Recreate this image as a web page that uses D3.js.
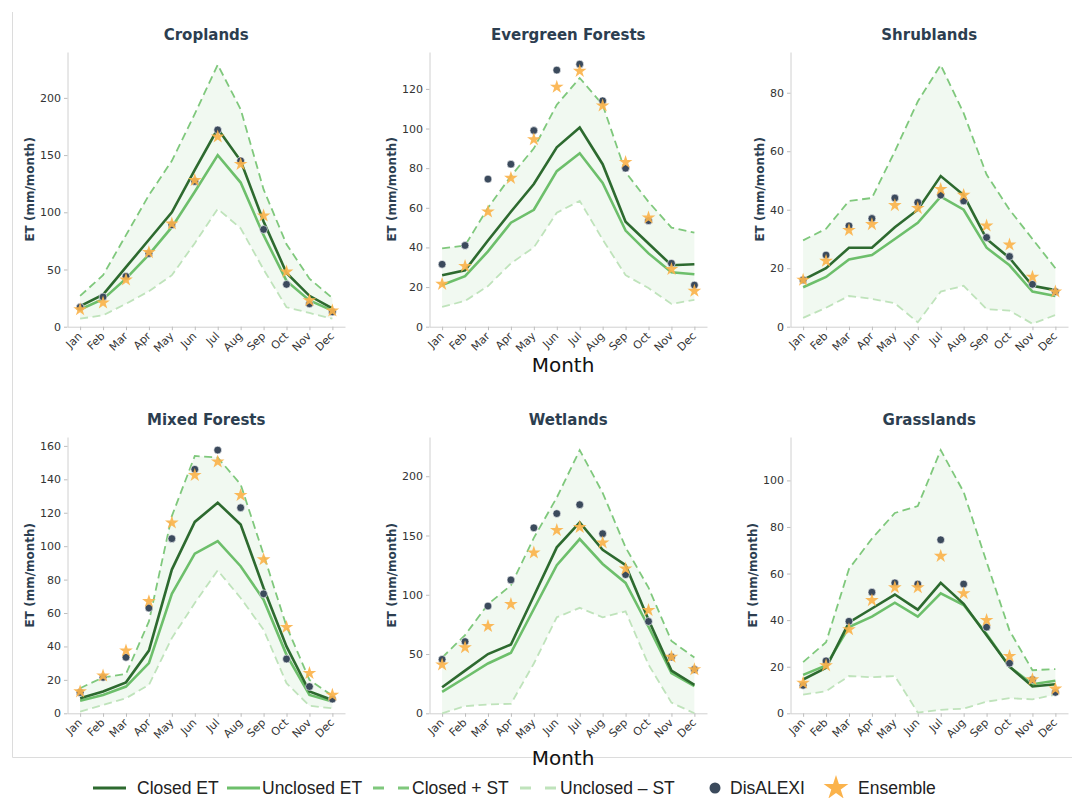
<!DOCTYPE html>
<html>
<head>
<meta charset="utf-8">
<script src="https://cdn.jsdelivr.net/npm/d3@7"></script>
<style>
body { margin: 0; background: #fff; }
svg { display: block; }
</style>
</head>
<body>
<svg id="chart" width="1072" height="798"></svg>
<script>
// ---- data ----
const months = ["Jan", "Feb", "Mar", "Apr", "May", "Jun", "Jul", "Aug", "Sep", "Oct", "Nov", "Dec"];
const panels = ["Croplands", "Evergreen Forests", "Shrublands", "Mixed Forests", "Wetlands", "Grasslands"];
const yTickStep = [50, 20, 20, 20, 50, 20];

const closedET = [
    [18, 28, 52, 76, 100, 137, 173, 145, 92, 47, 27, 16],
    [26, 28.5, 43.5, 58, 72, 90.5, 100.5, 82, 53, 42, 31, 31.5],
    [16, 20, 27, 27, 34, 40, 51.5, 45, 30, 23.5, 14, 12.5],
    [9, 13, 18.5, 37.5, 86, 114.5, 126, 113, 75, 40, 13, 8],
    [22, 36, 50, 58, 99, 140, 161, 138, 125, 79, 36, 24],
    [14.5, 19.5, 39, 45, 51, 44.5, 56, 47, 33.5, 20, 11.5, 12.5]
];
const unclosedET = [
    [15, 24, 42, 63, 87, 118, 150, 126, 80, 40, 23, 14],
    [21, 25.5, 38, 52.5, 59, 78.5, 87.5, 72.5, 48.5, 37, 27.5, 26.5],
    [13.5, 17, 23, 24.5, 30, 35.5, 44.5, 40, 27, 21, 12, 10.5],
    [7.5, 11, 16, 30, 71.5, 95.5, 103, 88, 68, 35, 11, 7],
    [18, 30, 42, 51, 88, 125, 147, 126, 110, 73, 34, 23],
    [16.5, 20.5, 37, 41.5, 47.5, 41.5, 51.5, 46.5, 34, 20, 12.5, 14]
];
const closedPlusST = [
    [27, 45, 80, 115, 145, 186, 229, 190, 120, 72, 42, 25],
    [39.5, 41, 60, 76, 90, 112, 125.5, 112, 78, 63, 50, 47.5],
    [29.5, 33.5, 43, 44, 60, 77, 89.5, 73, 52, 40, 30, 20],
    [15, 21.5, 23.5, 55, 118, 154, 153, 137, 95, 52, 20, 10.5],
    [47, 66, 92, 108, 148, 182, 222, 186, 140, 106, 61, 47],
    [22, 30.5, 62, 75, 86, 89, 113, 95, 65, 35.5, 18.5, 19]
];
const unclosedMinusST = [
    [7, 10, 20, 31, 45, 73, 103, 86, 50, 17, 12, 7],
    [10, 13, 20.5, 32, 40, 57.5, 63.5, 44, 26, 19.5, 11.5, 13.5],
    [3, 6.5, 10.5, 9.5, 8, 1.5, 12, 14, 6, 5.5, 1, 4],
    [1, 5, 9, 17, 45, 66, 85.5, 69, 50, 18, 4.5, 3],
    [0, 6, 7.5, 8, 42, 81, 89, 81, 86, 41, 9, 0],
    [8, 9.5, 16, 15.5, 16, 0.3, 1.5, 2, 5, 6.5, 6, 8]
];
const disALEXI = [
    [17, 26, 44, 64, 89, 127, 172, 145, 85, 37, 20, 13],
    [31.5, 41, 74.5, 82, 99, 129.5, 132.5, 114, 80, 53.5, 32, 21],
    [16, 24.5, 34.5, 37, 44, 42.5, 45, 43, 30.5, 24, 14.5, 12],
    [12.5, 21.5, 33.5, 63, 104.5, 146, 157.5, 123, 71.5, 32.5, 16, 8.5],
    [45.5, 60.5, 90.5, 112.5, 156.5, 168.5, 176, 151.5, 117, 77.5, 47.5, 37],
    [12, 22.5, 39.5, 52, 56, 55.5, 74.5, 55.5, 37, 21.5, 14.5, 9]
];
const ensemble = [
    [15, 21, 41, 65, 90, 128, 166, 142, 97, 48, 23, 14],
    [21.5, 30.5, 58, 75, 94.5, 121, 129, 111.5, 83, 55, 29, 18],
    [16, 22.5, 33, 35, 41.5, 40.5, 47, 45, 34.5, 28, 17, 12],
    [13, 22.5, 37.5, 67, 114, 142.5, 150.5, 130.5, 92, 51.5, 24, 11],
    [41, 55.5, 73.5, 92, 135.5, 154.5, 157, 144, 122, 87, 47.5, 37],
    [13, 20.5, 36, 48.5, 54, 54, 67.5, 51.5, 40, 24.5, 14.5, 10.5]
];
const legendLabels = ["Closed ET", "Unclosed ET", "Closed + ST", "Unclosed \u2013 ST", "DisALEXI", "Ensemble"];

// ---- styles ----
const cClosed = "#2d6a2f";
const cUnclosed = "#6dbf6b";
const cClosedST = "#7fc87c";
const cUnclosedST = "#bfe3bb";
const cFill = "#f1f9f1";
const cDot = "#3b4a5c";
const cStar = "#fbb34c";
const cTitle = "#2c3e50";

const svg = d3.select("#chart");

// frame around the panels
svg.append("path")
    .attr("d", "M12.5,12 V757.5 H1072")
    .attr("fill", "none")
    .attr("stroke", "#dcdcdc")
    .attr("stroke-width", 1);

const colLeft = [67.5, 429.5, 790.5];
const rowTop = [52, 437];
const rowBottom = [326.7, 713.3];
const plotW = 277.5;

panels.forEach((name, i) => {
    const col = i % 3, row = Math.floor(i / 3);
    const left = colLeft[col], top = rowTop[row], bottom = rowBottom[row];

    const allVals = [].concat(closedET[i], unclosedET[i], closedPlusST[i], unclosedMinusST[i], disALEXI[i], ensemble[i]);
    const lo = d3.min(allVals), hi = d3.max(allVals);
    const yMax = hi + 0.05 * (hi - lo);

    const x = d3.scaleLinear().domain([-0.55, 11.55]).range([left, left + plotW]);
    const y = d3.scaleLinear().domain([0, yMax]).range([bottom, top]);

    const g = svg.append("g");

    // band
    const area = d3.area()
        .x((d, k) => x(k))
        .y0((d, k) => y(unclosedMinusST[i][k]))
        .y1((d, k) => y(closedPlusST[i][k]));
    g.append("path").datum(months).attr("d", area).attr("fill", cFill);

    // axes
    const yAxis = g.append("g")
        .attr("transform", `translate(${left},0)`)
        .call(d3.axisLeft(y).tickValues(d3.range(0, yMax, yTickStep[i])).tickSize(3.5).tickPadding(3).tickSizeOuter(0));
    const xAxis = g.append("g")
        .attr("transform", `translate(0,${bottom})`)
        .call(d3.axisBottom(x).tickValues(d3.range(12)).tickFormat(k => months[k]).tickSize(3.5).tickSizeOuter(0));

    [yAxis, xAxis].forEach(a => {
        a.select(".domain").attr("stroke", "#d0d0d0");
        a.selectAll(".tick line").attr("stroke", "#bdbdbd");
        a.selectAll("text")
            .attr("fill", "#333")
            .style("font-family", "DejaVu Sans")
            .style("font-size", "11px");
    });
    xAxis.selectAll("text")
        .attr("text-anchor", "end")
        .attr("x", 0).attr("y", 0).attr("dy", 0)
        .attr("transform", "translate(2,10) rotate(-45)");

    const lineGen = arr => d3.line().x((d, k) => x(k)).y(d => y(d))(arr);

    g.append("path").attr("d", lineGen(unclosedMinusST[i]))
        .attr("fill", "none").attr("stroke", cUnclosedST).attr("stroke-width", 1.8).attr("stroke-dasharray", "8,4.5");
    g.append("path").attr("d", lineGen(closedPlusST[i]))
        .attr("fill", "none").attr("stroke", cClosedST).attr("stroke-width", 1.8).attr("stroke-dasharray", "8,4.5");
    g.append("path").attr("d", lineGen(unclosedET[i]))
        .attr("fill", "none").attr("stroke", cUnclosed).attr("stroke-width", 2.6);
    g.append("path").attr("d", lineGen(closedET[i]))
        .attr("fill", "none").attr("stroke", cClosed).attr("stroke-width", 2.6);

    g.selectAll(".dot").data(disALEXI[i]).enter().append("circle")
        .attr("class", "dot")
        .attr("cx", (d, k) => x(k)).attr("cy", d => y(d)).attr("r", 3.9)
        .attr("fill", cDot).attr("stroke", "#fff").attr("stroke-width", 0.6);

    g.selectAll(".star").data(ensemble[i]).enter().append("path")
        .attr("class", "star")
        .attr("transform", (d, k) => `translate(${x(k)},${y(d)})`)
        .attr("d", d3.symbol(d3.symbolStar, 58)())
        .attr("fill", cStar).attr("fill-opacity", 0.92);

    // title
    g.append("text")
        .attr("x", left + plotW / 2).attr("y", top - 12)
        .attr("text-anchor", "middle")
        .attr("fill", cTitle)
        .style("font-family", "DejaVu Sans").style("font-weight", "bold").style("font-size", "15px")
        .text(name);

    // y label, placed left of the tick labels
    const bb = yAxis.node().getBBox();
    const lx = left + bb.x - 6;
    g.append("text")
        .attr("transform", `translate(${lx},${(top + bottom) / 2}) rotate(-90)`)
        .attr("text-anchor", "middle")
        .attr("fill", cTitle)
        .style("font-family", "DejaVu Sans").style("font-weight", "bold").style("font-size", "12px")
        .text("ET (mm/month)");
});

// shared x labels
[372, 765].forEach(yy => {
    svg.append("text")
        .attr("x", 563).attr("y", yy)
        .attr("text-anchor", "middle")
        .attr("fill", "#111")
        .style("font-family", "DejaVu Sans").style("font-size", "20px")
        .text("Month");
});

// legend
const legY = 788;
const legItems = [
    {sx: 93, tx: 137, type: "line", color: cClosed},
    {sx: 227, tx: 262, type: "line", color: cUnclosed},
    {sx: 373, tx: 412, type: "dash", color: cClosedST},
    {sx: 520, tx: 560, type: "dash", color: cUnclosedST},
    {sx: 715, tx: 730, type: "dot", color: cDot},
    {sx: 836, tx: 858, type: "star", color: cStar}
];
const leg = svg.append("g");
legItems.forEach((it, k) => {
    if (it.type === "line") {
        leg.append("line").attr("x1", it.sx).attr("x2", it.sx + 33).attr("y1", legY).attr("y2", legY)
            .attr("stroke", it.color).attr("stroke-width", 3.2);
    } else if (it.type === "dash") {
        leg.append("line").attr("x1", it.sx).attr("x2", it.sx + 37).attr("y1", legY).attr("y2", legY)
            .attr("stroke", it.color).attr("stroke-width", 3.2).attr("stroke-dasharray", "11,14");
    } else if (it.type === "dot") {
        leg.append("circle").attr("cx", it.sx).attr("cy", legY).attr("r", 5.5).attr("fill", it.color);
    } else {
        leg.append("path").attr("transform", `translate(${it.sx},${legY})`)
            .attr("d", d3.symbol(d3.symbolStar, 190)()).attr("fill", it.color);
    }
    leg.append("text")
        .attr("x", it.tx).attr("y", legY).attr("dy", "0.35em")
        .attr("fill", "#222")
        .style("font-family", "Liberation Sans").style("font-size", "17.5px")
        .text(legendLabels[k]);
});
</script>
</body>
</html>
